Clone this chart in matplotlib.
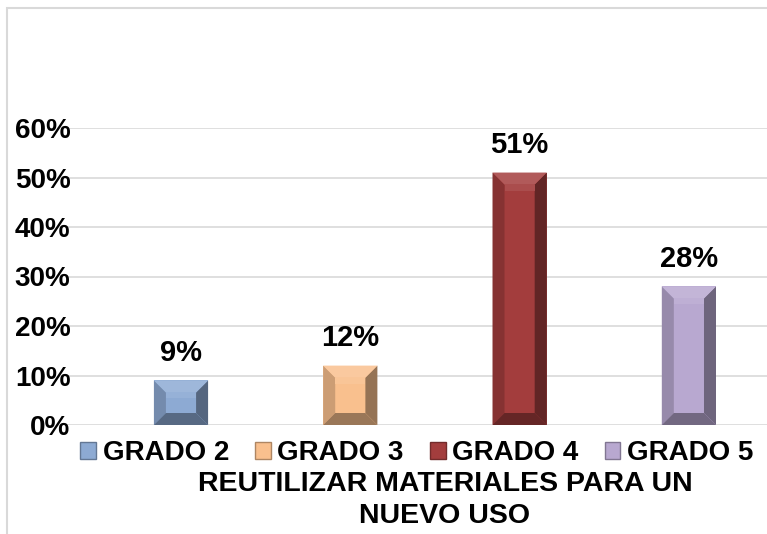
import matplotlib
matplotlib.use("Agg")
import matplotlib.pyplot as plt
from matplotlib.patches import Polygon, Rectangle, Patch
import matplotlib.colors as mc
import numpy as np

series = ["GRADO 2", "GRADO 3", "GRADO 4", "GRADO 5"]
values = [0.09, 0.12, 0.51, 0.28]
value_labels = ["9%", "12%", "51%", "28%"]
category = "REUTILIZAR MATERIALES PARA UN\nNUEVO USO"
yticks = [0.0, 0.1, 0.2, 0.3, 0.4, 0.5, 0.6]
ytick_labels = ["0%", "10%", "20%", "30%", "40%", "50%", "60%"]
colors = ["#8DAAD3", "#F9C08E", "#A33D3D", "#B8A8D0"]

FONT = "Liberation Sans"
W, H = 767, 534
fig = plt.figure(figsize=(W / 100, H / 100), dpi=100)

# outer chart border (only left/top visible)
fig.patches.append(Rectangle((7 / W, -0.1), 1.2, 1 - 8 / H + 0.1, transform=fig.transFigure,
                             fill=False, edgecolor="#D9D9D9", lw=1.5))

ax_left, ax_bottom, ax_top = 65, 425, 128
ax = fig.add_axes([ax_left / W, 1 - ax_bottom / H, 1 - ax_left / W, (ax_bottom - ax_top) / H])

pos = np.arange(len(series))
bw = 0.32
bars = ax.bar(pos, values, width=bw, color=colors, zorder=2)

px_per_x = 169.3
xmin = (ax_left - 181) / px_per_x
xmax = (W - 181) / px_per_x
ax.set_xlim(xmin, xmax)
ax.set_ylim(0, 0.6)
px_per_y = (ax_bottom - ax_top) / 0.6

dx = 12 / px_per_x
dy = 12 / px_per_y


def shade(c, f):
    r = np.array(mc.to_rgb(c))
    if f >= 1:
        return tuple(r + (1 - r) * (f - 1))
    return tuple(r * f)


for b, c in zip(bars, colors):
    x0, y0 = b.get_x(), b.get_y()
    x1, y1 = x0 + b.get_width(), y0 + b.get_height()
    faces = [
        ([(x0, y0), (x0 + dx, y0 + dy), (x0 + dx, y1 - dy), (x0, y1)], shade(c, 0.82)),
        ([(x1, y0), (x1 - dx, y0 + dy), (x1 - dx, y1 - dy), (x1, y1)], shade(c, 0.6)),
        ([(x0, y0), (x1, y0), (x1 - dx, y0 + dy), (x0 + dx, y0 + dy)], shade(c, 0.62)),
        ([(x0, y1), (x1, y1), (x1 - dx, y1 - dy), (x0 + dx, y1 - dy)], shade(c, 1.15)),
    ]
    for pts, fc in faces:
        ax.add_patch(Polygon(pts, closed=True, facecolor=fc, edgecolor="none", zorder=3))
    # soft highlight strip just inside the top bevel
    ax.add_patch(Polygon([(x0 + dx, y1 - dy), (x1 - dx, y1 - dy),
                          (x1 - dx, y1 - dy * 1.5), (x0 + dx, y1 - dy * 1.5)],
                         closed=True, facecolor=shade(c, 1.08), edgecolor="none", zorder=3))

for xi, v, lab in zip(pos, values, value_labels):
    ax.annotate(lab, (xi, v), xytext=(0, 20), textcoords="offset points",
                ha="center", va="center", fontsize=21, fontweight="bold", family=FONT)

ax.set_yticks(yticks)
ax.set_yticklabels(ytick_labels, fontsize=20, fontweight="bold", family=FONT)
ax.tick_params(axis="y", length=0, pad=-4)
ax.set_xticks([])
ax.grid(axis="y", color="#D9D9D9", lw=1.2, zorder=0)
for s in ax.spines.values():
    s.set_visible(False)
ax.set_axisbelow(True)
ax.patch.set_alpha(0)

handles = [Patch(facecolor=c, edgecolor=shade(c, 0.7)) for c in colors]
fig.legend(handles, series, loc="center", bbox_to_anchor=(417 / W, 1 - 453 / H), ncol=4,
           frameon=False, handlelength=0.55, handleheight=0.55, handletextpad=0.25,
           columnspacing=0.95, borderpad=0.0,
           prop={"family": FONT, "weight": "bold", "size": 20})

fig.text(445 / W, 1 - 500 / H, category, ha="center", va="center", fontsize=20.5,
         fontweight="bold", family=FONT, linespacing=1.32)

fig.savefig("out.png", dpi=100)
